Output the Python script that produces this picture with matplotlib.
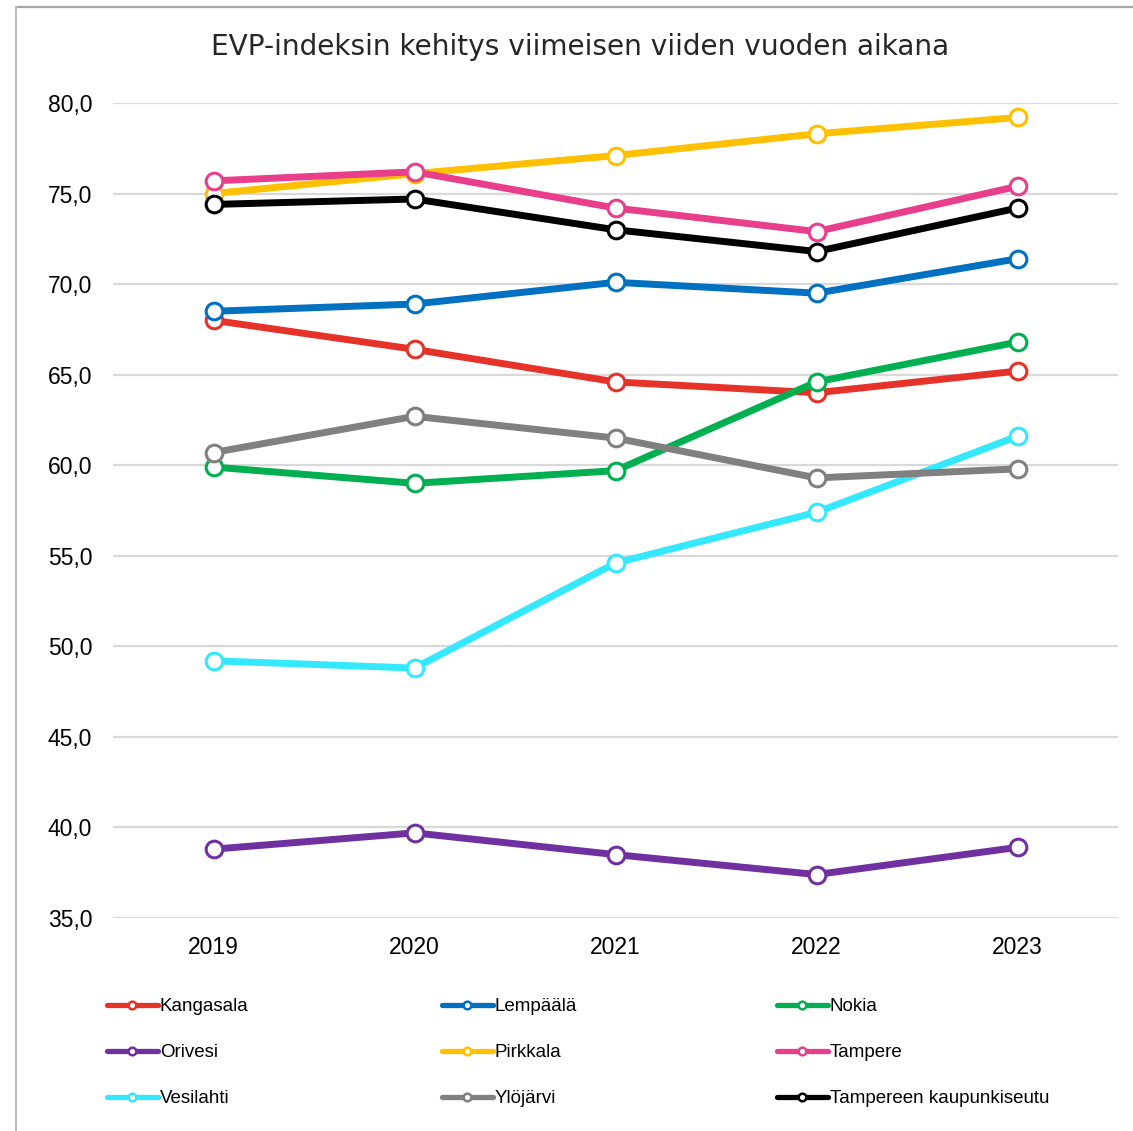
import matplotlib
matplotlib.use("Agg")
import matplotlib.pyplot as plt
from matplotlib.lines import Line2D

years = ["2019", "2020", "2021", "2022", "2023"]
series_names = ["Kangasala", "Lempäälä", "Nokia", "Orivesi", "Pirkkala",
                "Tampere", "Vesilahti", "Ylöjärvi", "Tampereen kaupunkiseutu"]
kangasala = [68.0, 66.4, 64.6, 64.0, 65.2]
lempaala = [68.5, 68.9, 70.1, 69.5, 71.4]
nokia = [59.9, 59.0, 59.7, 64.6, 66.8]
orivesi = [38.8, 39.7, 38.5, 37.4, 38.9]
pirkkala = [75.0, 76.1, 77.1, 78.3, 79.2]
tampere = [75.7, 76.2, 74.2, 72.9, 75.4]
vesilahti = [49.2, 48.8, 54.6, 57.4, 61.6]
ylojarvi = [60.7, 62.7, 61.5, 59.3, 59.8]
seutu = [74.4, 74.7, 73.0, 71.8, 74.2]
yticks = [35, 40, 45, 50, 55, 60, 65, 70, 75, 80]

values = [kangasala, lempaala, nokia, orivesi, pirkkala, tampere, vesilahti, ylojarvi, seutu]
colors = ["#e5332a", "#0070c0", "#00b050", "#7030a0", "#ffc000",
          "#e83e8c", "#33e8ff", "#808080", "#000000"]

plt.rcParams['font.family'] = ['Liberation Sans', 'DejaVu Sans']

fig = plt.figure(figsize=(11.33, 11.31), dpi=100)
ax = fig.add_axes([113/1133, 1-918/1131, (1118-113)/1133, (918-103)/1131])

x = list(range(len(years)))
for name, vals, c in zip(series_names, values, colors):
    ax.plot(x, vals, color=c, lw=5, marker='o', markersize=12,
            markerfacecolor='white', markeredgecolor=c, markeredgewidth=2.2,
            solid_capstyle='round', solid_joinstyle='round', label=name, zorder=3)

ax.set_xlim(-0.5, 4.5)
ax.set_ylim(35, 80)
ax.set_yticks(yticks)
ax.set_yticklabels([f"{v:.1f}".replace('.', ',') for v in yticks])
ax.set_xticks(x)
ax.set_xticklabels(years)
ax.tick_params(axis='both', length=0, labelsize=16.5, colors='#000000')
ax.tick_params(axis='y', pad=15)
ax.tick_params(axis='x', pad=13)
ax.grid(axis='y', color='#d9d9d9', lw=1.6, zorder=0)
ax.grid(axis='x', visible=False)
for s in ax.spines.values():
    s.set_visible(False)

fig.text(580/1133, 1-47/1131, "EVP-indeksin kehitys viimeisen viiden vuoden aikana",
         ha='center', va='center', fontsize=20.2, family=['DejaVu Sans'],
         color='#262626')

# Legend in three columns (row-major order)
handles = [Line2D([], [], color=c, lw=3.8, marker='o', markersize=5.5,
                  markerfacecolor='white', markeredgecolor=c, markeredgewidth=1.8,
                  solid_capstyle='round')
           for c in colors]
col_x = [107, 442, 777]
for ci in range(3):
    idx = [ci, ci + 3, ci + 6]
    fig.legend([handles[i] for i in idx], [series_names[i] for i in idx],
               loc='upper left', bbox_to_anchor=(col_x[ci]/1133, 1-998/1131),
               frameon=False, fontsize=13.5, handlelength=2.7,
               handletextpad=0.12, labelspacing=1.54, borderpad=0,
               borderaxespad=0)

# chart frame (top and left edges visible)
fx, fy = 16/1133, 1-7/1131
fig.add_artist(Line2D([fx, 1.05], [fy, fy], transform=fig.transFigure,
                      color='#a6a6a6', lw=1.6))
fig.add_artist(Line2D([fx, fx], [fy, -0.05], transform=fig.transFigure,
                      color='#bfbfbf', lw=1.4))

fig.savefig("out.png", dpi=100, facecolor='white')
